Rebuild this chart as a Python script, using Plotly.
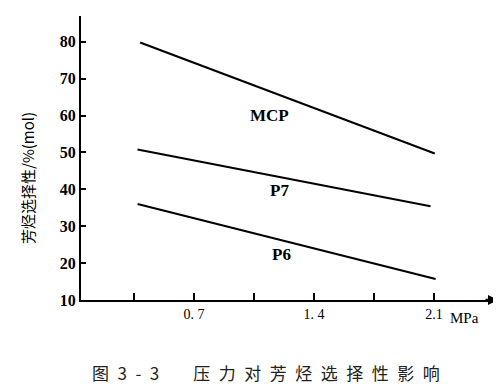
import plotly.graph_objects as go

# Data
pressure_mcp = [0.385, 2.105]
select_mcp = [79.8, 49.7]
pressure_p7 = [0.37, 2.08]
select_p7 = [50.8, 35.4]
pressure_p6 = [0.37, 2.11]
select_p6 = [36.0, 15.7]

series_names = ["MCP", "P7", "P6"]
label_x = [1.14, 1.20, 1.21]
label_y = [60.0, 39.7, 22.2]

x_tickvals = [0.35, 0.7, 1.05, 1.4, 1.75, 2.1]
x_ticktext = ["", "0. 7", "", "1. 4", "", "2.1"]
y_tickvals = [10, 20, 30, 40, 50, 60, 70, 80]

SERIF = "'Liberation Serif', 'DejaVu Serif', serif"
CJK = "'Noto Sans CJK SC', sans-serif"

fig = go.Figure()
for xs, ys in [(pressure_mcp, select_mcp), (pressure_p7, select_p7), (pressure_p6, select_p6)]:
    fig.add_trace(go.Scatter(x=xs, y=ys, mode="lines",
                             line=dict(color="black", width=2), showlegend=False,
                             hoverinfo="skip"))

for name, lx, ly in zip(series_names, label_x, label_y):
    fig.add_annotation(x=lx, y=ly, text=name, showarrow=False,
                       font=dict(family=SERIF, size=17, color="black", weight="bold"))

fig.add_annotation(x=2.1, y=0, xref="x", yref="paper", text="MPa", showarrow=False,
                   xanchor="left", yanchor="top", xshift=14, yshift=-8,
                   font=dict(family=SERIF, size=15, color="black"))

# arrow at the end of the x axis
fig.add_annotation(x=1, y=0, xref="paper", yref="paper", ax=-14, ay=0,
                   text="", showarrow=True, arrowhead=2, arrowsize=0.8,
                   arrowwidth=2.5, arrowcolor="black")

# y-axis title
fig.add_annotation(x=0, y=0.5, xref="paper", yref="paper",
                   text="芳烃选择性/%(mol)", textangle=-90, showarrow=False,
                   xanchor="center", yanchor="middle", xshift=-54, yshift=-20,
                   font=dict(family=CJK, size=15, color="black"))

# caption
caption = "图\u20023\u2002-\u20023\u2003\u2003" + "\u2002".join("压力对芳烃选择性影响")
fig.add_annotation(x=0.464, y=0, xref="paper", yref="paper",
                   text=caption, showarrow=False,
                   yanchor="middle", yshift=-72, xshift=-8,
                   font=dict(family=CJK, size=17, color="#222"))

fig.update_layout(
    width=501, height=386,
    margin=dict(l=73, r=11, t=8, b=94),
    paper_bgcolor="white", plot_bgcolor="white",
    xaxis=dict(range=[0.04, 2.474], tickvals=x_tickvals, ticktext=x_ticktext,
               ticks="inside", ticklen=7, tickwidth=2, tickcolor="black",
               showline=True, linecolor="black", linewidth=2,
               showgrid=False, zeroline=False,
               tickfont=dict(family=SERIF, size=14, color="black")),
    yaxis=dict(range=[10, 86.97], tickvals=y_tickvals,
               ticks="inside", ticklen=5, tickwidth=2, tickcolor="black",
               showline=True, linecolor="black", linewidth=2,
               showgrid=False, zeroline=False,
               tickfont=dict(family=SERIF, size=16, color="black", weight="bold")),
)

fig.write_html("out.html")
